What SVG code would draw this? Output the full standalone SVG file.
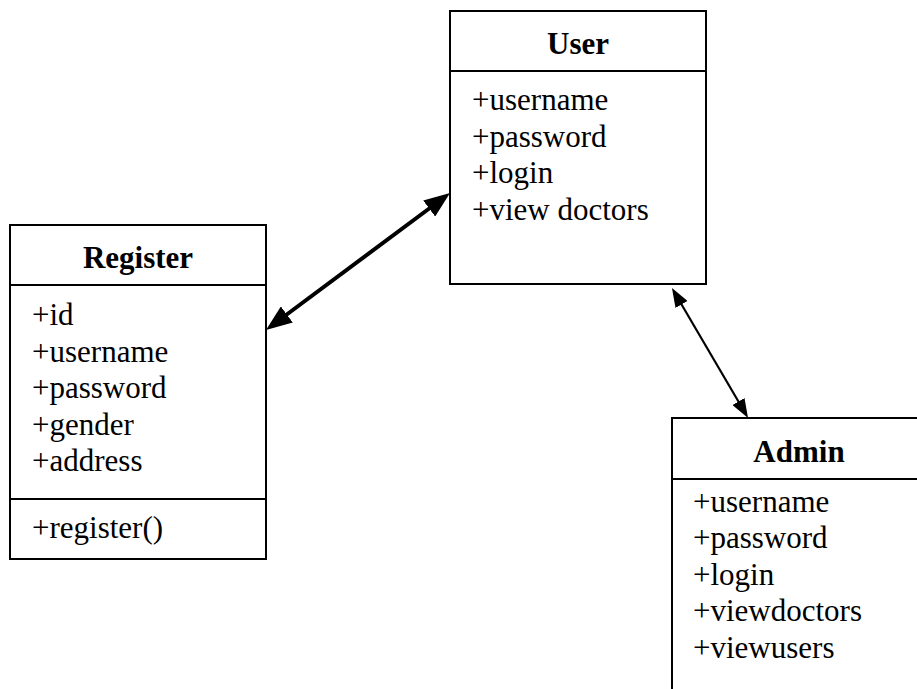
<svg xmlns="http://www.w3.org/2000/svg" width="917" height="689" viewBox="0 0 917 689">
<style>
.box{fill:#fff;stroke:#000;stroke-width:2}
.div{stroke:#000;stroke-width:2}
.t{font-family:"Liberation Serif","Times New Roman",serif;font-size:31px;fill:#000}
.h{font-weight:bold;text-anchor:middle}
.c{stroke:#000;fill:none}
</style>
<defs>
<marker id="ah1" markerUnits="userSpaceOnUse" viewBox="0 0 26 20" markerWidth="26" markerHeight="20" refX="16" refY="10" orient="auto-start-reverse">
<path d="M0,0 L26,10 L0,20 z" fill="#000"/>
</marker>
<marker id="ah2" markerUnits="userSpaceOnUse" viewBox="0 0 19 14" markerWidth="19" markerHeight="14" refX="11" refY="7" orient="auto-start-reverse">
<path d="M0,0 L19,7 L0,14 z" fill="#000"/>
</marker>
</defs>
<rect width="917" height="689" fill="#fff"/>
<g id="connectors">
<line class="c" x1="274" y1="324" x2="442" y2="199" stroke-width="4" marker-start="url(#ah1)" marker-end="url(#ah1)"/>
<line class="c" x1="676" y1="295" x2="744" y2="411" stroke-width="2.2" marker-start="url(#ah2)" marker-end="url(#ah2)"/>
</g>
<g id="user">
<rect class="box" x="450" y="11" width="256" height="273"/>
<line class="div" x1="450" y1="71" x2="706" y2="71"/>
<text class="t h" x="578" y="54">User</text>
<text class="t" x="472" y="110">+username</text>
<text class="t" x="472" y="147">+password</text>
<text class="t" x="472" y="183">+login</text>
<text class="t" x="472" y="220">+view doctors</text>
</g>
<g id="register">
<rect class="box" x="10" y="225" width="256" height="334"/>
<line class="div" x1="10" y1="285" x2="266" y2="285"/>
<line class="div" x1="10" y1="499" x2="266" y2="499"/>
<text class="t h" x="138" y="268">Register</text>
<text class="t" x="32" y="325">+id</text>
<text class="t" x="32" y="362">+username</text>
<text class="t" x="32" y="398">+password</text>
<text class="t" x="32" y="435">+gender</text>
<text class="t" x="32" y="471">+address</text>
<text class="t" x="32" y="538">+register()</text>
</g>
<g id="admin">
<rect class="box" x="672" y="418" width="260" height="300"/>
<line class="div" x1="672" y1="479" x2="932" y2="479"/>
<text class="t h" x="799" y="462">Admin</text>
<text class="t" x="693" y="512">+username</text>
<text class="t" x="693" y="548">+password</text>
<text class="t" x="693" y="585">+login</text>
<text class="t" x="693" y="621">+viewdoctors</text>
<text class="t" x="693" y="658">+viewusers</text>
</g>
</svg>
